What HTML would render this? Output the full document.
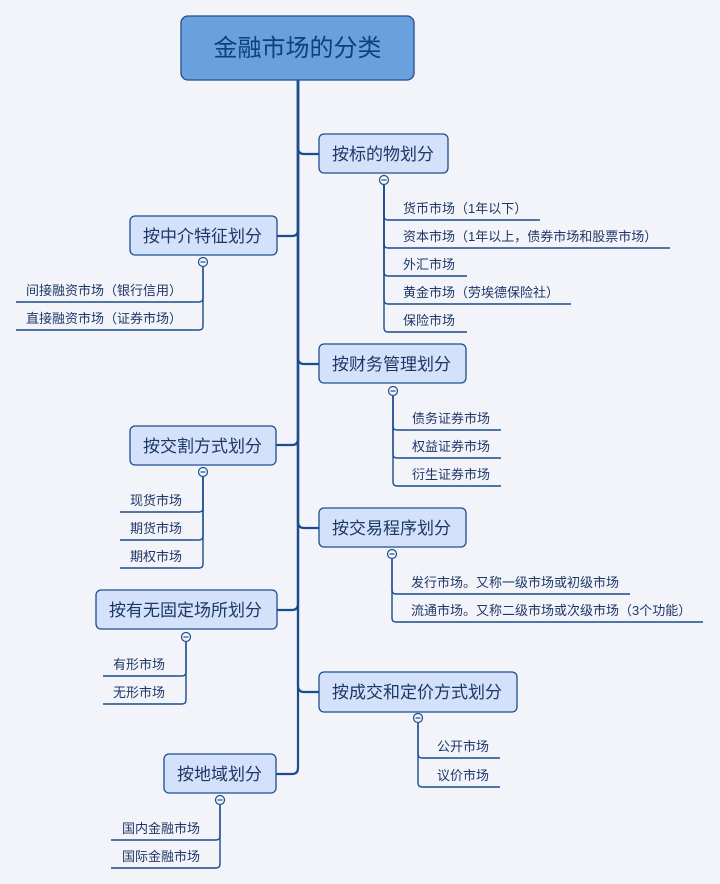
<!DOCTYPE html>
<html>
<head>
<meta charset="utf-8">
<style>
html,body{margin:0;padding:0;background:#f2f4fa;}
svg{display:block;}
text{font-family:"Liberation Sans","Noto Sans CJK SC",sans-serif;}
.p{font-family:"Noto Sans CJK TC","Noto Sans CJK SC",sans-serif;}
.b{fill:#d3e1fb;stroke:#1d4f8e;stroke-width:1.3;}
.bt{font-size:17px;fill:#1e3766;}
.lt{font-size:13px;fill:#1e3766;}
.tr{fill:none;stroke:#1b4c8c;stroke-width:2.2;}
.cl{fill:none;stroke:#1b4c8c;stroke-width:1.4;}
.c{fill:#f4f6fc;stroke:#1d4f8e;stroke-width:1.2;}
.m{stroke:#1d4f8e;stroke-width:1.2;}
</style>
</head>
<body>
<svg width="720" height="884" viewBox="0 0 720 884" xmlns="http://www.w3.org/2000/svg">
<rect width="720" height="884" fill="#f2f4fa"/>

<!-- trunk connectors -->
<path class="tr" d="M298,80 V148 Q298,154 304,154 H319"/>
<path class="tr" d="M298,80 V230 Q298,236 292,236 H277"/>
<path class="tr" d="M298,80 V358 Q298,364 304,364 H319"/>
<path class="tr" d="M298,80 V439 Q298,445 292,445 H276"/>
<path class="tr" d="M298,80 V522 Q298,528 304,528 H319"/>
<path class="tr" d="M298,80 V604 Q298,610 292,610 H277"/>
<path class="tr" d="M298,80 V686 Q298,692 304,692 H319"/>
<path class="tr" d="M298,80 V768 Q298,774 292,774 H276"/>

<!-- root -->
<rect x="181" y="16" width="233" height="64" rx="7" ry="7" fill="#69a0dd" stroke="#1d4f8e" stroke-width="1.3"/>
<text x="297.5" y="56" text-anchor="middle" font-size="24" fill="#0f3f7c">金融市场的分类</text>

<!-- 按标的物划分 -->
<path class="cl" d="M384,185 V216 Q384,220 388,220 H540"/>
<path class="cl" d="M384,185 V244 Q384,248 388,248 H670"/>
<path class="cl" d="M384,185 V272 Q384,276 388,276 H467"/>
<path class="cl" d="M384,185 V300 Q384,304 388,304 H571"/>
<path class="cl" d="M384,185 V328 Q384,332 388,332 H467"/>
<rect class="b" x="319" y="134" width="129" height="39" rx="5"/>
<text class="bt" x="332" y="160">按标的物划分</text>
<circle class="c" cx="384" cy="180" r="4.5"/><line class="m" x1="381.5" y1="180" x2="386.5" y2="180"/>
<text class="lt" x="403" y="213">货币市场<tspan class="p">（</tspan>1年以下<tspan class="p">）</tspan></text>
<text class="lt" x="403" y="241">资本市场<tspan class="p">（</tspan>1年以上，债券市场和股票市场<tspan class="p">）</tspan></text>
<text class="lt" x="403" y="269">外汇市场</text>
<text class="lt" x="403" y="297">黄金市场<tspan class="p">（</tspan>劳埃德保险社<tspan class="p">）</tspan></text>
<text class="lt" x="403" y="325">保险市场</text>

<!-- 按中介特征划分 -->
<path class="cl" d="M203,267 V298 Q203,302 199,302 H16"/>
<path class="cl" d="M203,267 V326 Q203,330 199,330 H16"/>
<rect class="b" x="130" y="216" width="147" height="39" rx="5"/>
<text class="bt" x="143" y="242">按中介特征划分</text>
<circle class="c" cx="203" cy="262" r="4.5"/><line class="m" x1="200.5" y1="262" x2="205.5" y2="262"/>
<text class="lt" x="26" y="295">间接融资市场<tspan class="p">（</tspan>银行信用<tspan class="p">）</tspan></text>
<text class="lt" x="26" y="323">直接融资市场<tspan class="p">（</tspan>证券市场<tspan class="p">）</tspan></text>

<!-- 按财务管理划分 -->
<path class="cl" d="M393,396 V426 Q393,430 397,430 H501"/>
<path class="cl" d="M393,396 V454 Q393,458 397,458 H501"/>
<path class="cl" d="M393,396 V482 Q393,486 397,486 H501"/>
<rect class="b" x="319" y="344" width="147" height="39" rx="5"/>
<text class="bt" x="332" y="370">按财务管理划分</text>
<circle class="c" cx="393" cy="391" r="4.5"/><line class="m" x1="390.5" y1="391" x2="395.5" y2="391"/>
<text class="lt" x="412" y="423">债务证券市场</text>
<text class="lt" x="412" y="451">权益证券市场</text>
<text class="lt" x="412" y="479">衍生证券市场</text>

<!-- 按交割方式划分 -->
<path class="cl" d="M203,477 V508 Q203,512 199,512 H120"/>
<path class="cl" d="M203,477 V536 Q203,540 199,540 H120"/>
<path class="cl" d="M203,477 V564 Q203,568 199,568 H120"/>
<rect class="b" x="130" y="426" width="146" height="39" rx="5"/>
<text class="bt" x="143" y="452">按交割方式划分</text>
<circle class="c" cx="203" cy="472" r="4.5"/><line class="m" x1="200.5" y1="472" x2="205.5" y2="472"/>
<text class="lt" x="130" y="505">现货市场</text>
<text class="lt" x="130" y="533">期货市场</text>
<text class="lt" x="130" y="561">期权市场</text>

<!-- 按交易程序划分 -->
<path class="cl" d="M392,559 V590 Q392,594 396,594 H630"/>
<path class="cl" d="M392,559 V618 Q392,622 396,622 H703"/>
<rect class="b" x="319" y="508" width="147" height="39" rx="5"/>
<text class="bt" x="332" y="534">按交易程序划分</text>
<circle class="c" cx="392" cy="554" r="4.5"/><line class="m" x1="389.5" y1="554" x2="394.5" y2="554"/>
<text class="lt" x="411" y="587">发行市场。又称一级市场或初级市场</text>
<text class="lt" x="411" y="615">流通市场。又称二级市场或次级市场<tspan class="p">（</tspan>3个功能<tspan class="p">）</tspan></text>

<!-- 按有无固定场所划分 -->
<path class="cl" d="M186,642 V672 Q186,676 182,676 H103"/>
<path class="cl" d="M186,642 V700 Q186,704 182,704 H103"/>
<rect class="b" x="96" y="590" width="181" height="39" rx="5"/>
<text class="bt" x="109" y="616">按有无固定场所划分</text>
<circle class="c" cx="186" cy="637" r="4.5"/><line class="m" x1="183.5" y1="637" x2="188.5" y2="637"/>
<text class="lt" x="113" y="669">有形市场</text>
<text class="lt" x="113" y="697">无形市场</text>

<!-- 按成交和定价方式划分 -->
<path class="cl" d="M418,723 V754 Q418,758 422,758 H500"/>
<path class="cl" d="M418,723 V783 Q418,787 422,787 H500"/>
<rect class="b" x="319" y="672" width="198" height="40" rx="5"/>
<text class="bt" x="332" y="698">按成交和定价方式划分</text>
<circle class="c" cx="418" cy="718" r="4.5"/><line class="m" x1="415.5" y1="718" x2="420.5" y2="718"/>
<text class="lt" x="437" y="751">公开市场</text>
<text class="lt" x="437" y="780">议价市场</text>

<!-- 按地域划分 -->
<path class="cl" d="M220,805 V836 Q220,840 216,840 H111"/>
<path class="cl" d="M220,805 V864 Q220,868 216,868 H111"/>
<rect class="b" x="164" y="754" width="112" height="39" rx="5"/>
<text class="bt" x="177" y="780">按地域划分</text>
<circle class="c" cx="220" cy="800" r="4.5"/><line class="m" x1="217.5" y1="800" x2="222.5" y2="800"/>
<text class="lt" x="122" y="833">国内金融市场</text>
<text class="lt" x="122" y="861">国际金融市场</text>
</svg>
</body>
</html>
